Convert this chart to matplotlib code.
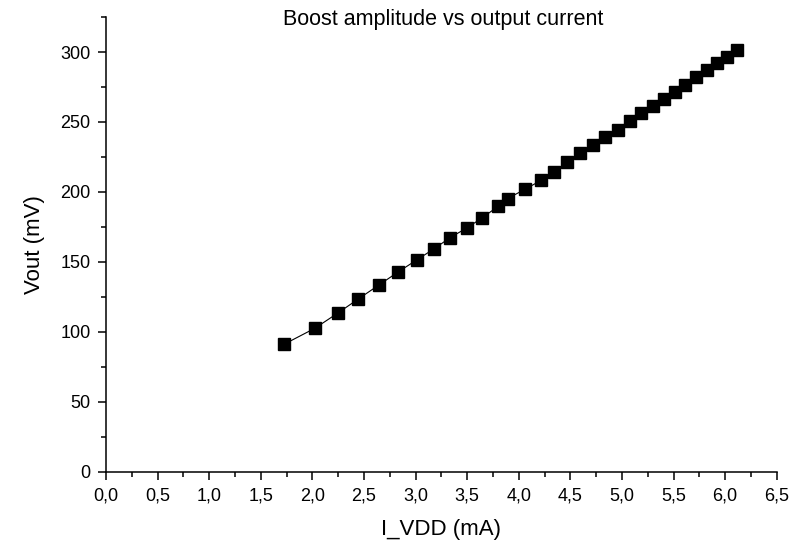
import matplotlib
matplotlib.use("Agg")
import matplotlib.pyplot as plt
from matplotlib.ticker import MultipleLocator, FuncFormatter

plt.rcParams['font.family'] = ['Liberation Sans', 'DejaVu Sans']

# measured points (I_VDD in mA, Vout in mV)
i_vdd = [1.725, 2.025, 2.248, 2.445, 2.645, 2.827, 3.011, 3.178, 3.336, 3.498,
         3.646, 3.798, 3.892, 4.063, 4.215, 4.344, 4.467, 4.593, 4.719, 4.838,
         4.958, 5.075, 5.187, 5.298, 5.404, 5.514, 5.613, 5.717, 5.824, 5.918,
         6.015, 6.114]
vout = [91.1, 102.6, 113.5, 123.5, 133.5, 142.6, 151.4, 159.3, 167.4, 174.3,
        181.5, 189.6, 195.3, 202.0, 208.2, 214.6, 221.3, 227.5, 233.5, 239.6,
        244.6, 250.4, 256.6, 261.4, 266.4, 271.4, 276.1, 282.5, 287.3, 292.3,
        296.1, 301.4]

fig = plt.figure(figsize=(8.02, 5.41), dpi=100)
ax = fig.add_axes([0.1322, 0.128, 0.8363, 0.8405])

ax.plot(i_vdd, vout, color='black', lw=0.8, marker='s', ms=8,
        markerfacecolor='black', markeredgecolor='black')

ax.set_xlim(0, 6.5)
ax.set_ylim(0, 325)
ax.xaxis.set_major_locator(MultipleLocator(0.5))
ax.xaxis.set_minor_locator(MultipleLocator(0.25))
ax.yaxis.set_major_locator(MultipleLocator(50))
ax.yaxis.set_minor_locator(MultipleLocator(25))
ax.xaxis.set_major_formatter(FuncFormatter(lambda v, p: f"{v:.1f}".replace('.', ',')))

for s in ['top', 'right']:
    ax.spines[s].set_visible(False)
for s in ['left', 'bottom']:
    ax.spines[s].set_linewidth(1.1)

ax.tick_params(which='major', direction='out', length=6, width=1.1, labelsize=13, pad=5)
ax.tick_params(which='minor', direction='out', length=3.5, width=1.1)

ax.set_xlabel('I_VDD (mA)', fontsize=16, labelpad=11)
ax.set_ylabel('Vout (mV)', fontsize=16, labelpad=11)

fig.text(443 / 802, 1 - 20 / 541, 'Boost amplitude vs output current',
         ha='center', va='center', fontsize=15.5)

fig.savefig('out.png', dpi=100)
